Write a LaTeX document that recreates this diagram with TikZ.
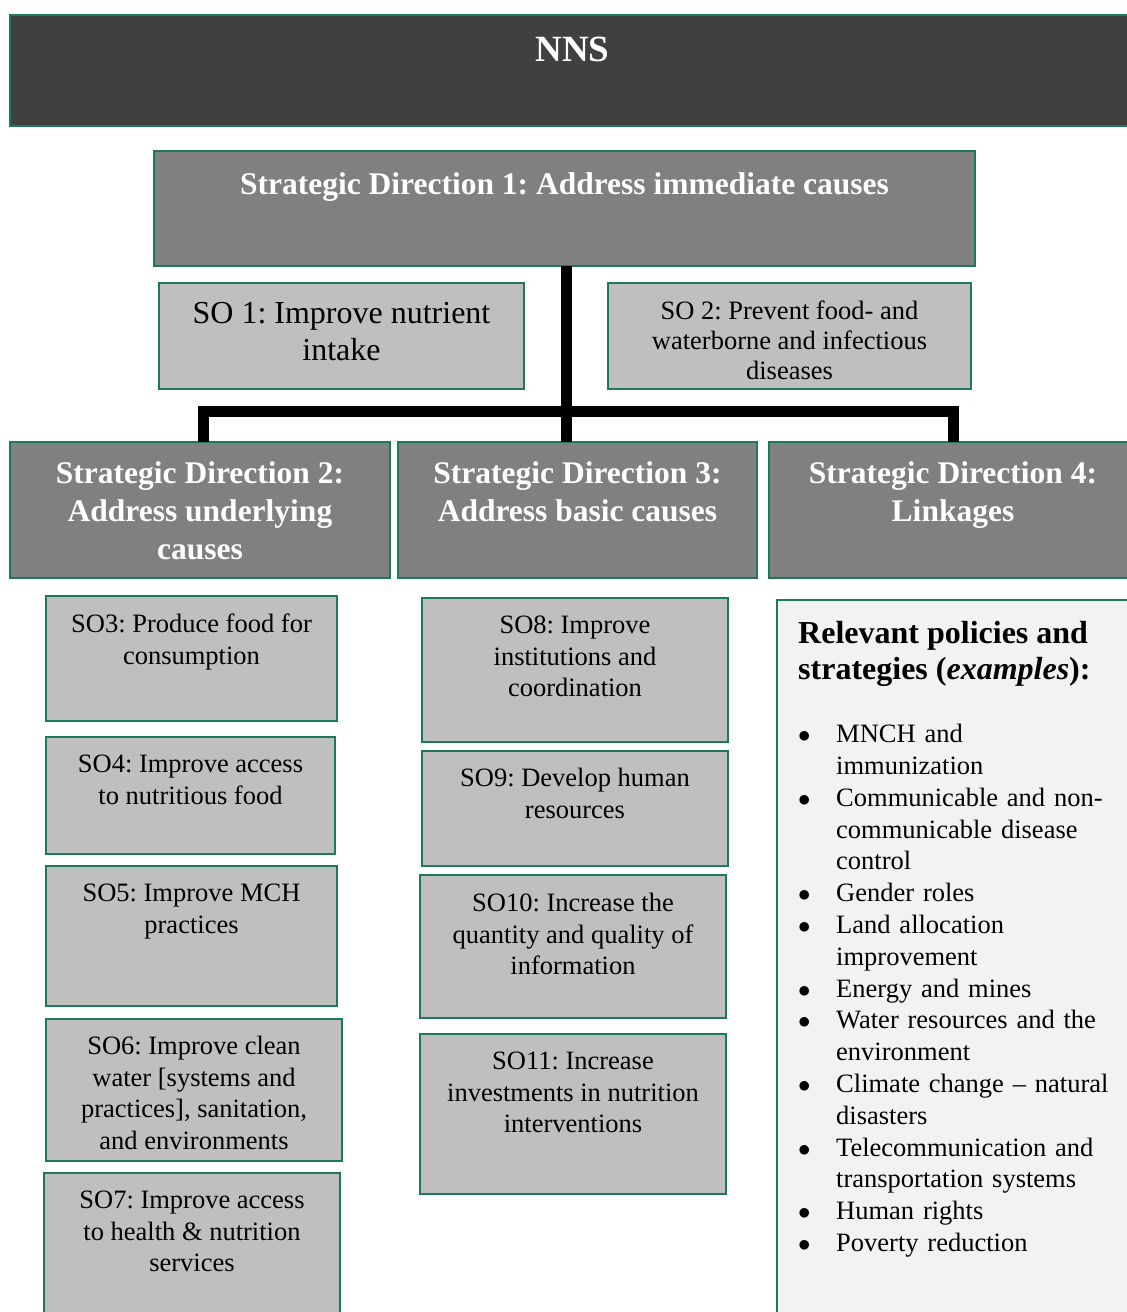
\documentclass[tikz,border=0pt]{standalone}
\usepackage{fontspec}
\setmainfont{Liberation Serif}
\usepackage{tikz}
\usetikzlibrary{positioning}
\frenchspacing

\definecolor{nnsgreen}{RGB}{30,120,92}
\definecolor{nnsdark}{RGB}{64,64,64}
\definecolor{nnsmid}{RGB}{128,128,128}
\definecolor{nnslight}{RGB}{191,191,191}
\definecolor{nnspale}{RGB}{242,242,242}

\newcommand{\pitem}[1]{\par\hangindent=38pt\hangafter=1\noindent\makebox[38pt][l]{$\bullet$}#1}

\tikzset{
  frame/.style={draw=nnsgreen, line width=2.5pt, inner sep=0pt, outer sep=0pt, anchor=north west},
  topbox/.style={frame, fill=nnsdark},
  dirbox/.style={frame, fill=nnsmid},
  sobox/.style={frame, fill=nnslight},
  panel/.style={frame, fill=nnspale},
  toptext/.style={font=\fontsize{37}{42}\selectfont\bfseries, text=white, inner sep=0pt},
  dirtext/.style={font=\fontsize{31.5}{38}\selectfont\bfseries, text=white, align=center, inner sep=0pt},
  sotext/.style={font=\fontsize{26.5}{31.5}\selectfont, align=center, inner sep=0pt},
  link/.style={line width=11pt, line join=miter},
}

\begin{document}
\begin{tikzpicture}[x=1pt,y=-1pt]
  \useasboundingbox (0,0) rectangle (1127,1312);

  % top level
  \node[topbox, minimum width=1125pt, minimum height=111pt] (nns) at (10,15) {};
  \node[toptext, below=22pt of nns.north] (nns-t) {NNS};

  % strategic direction 1
  \node[dirbox, minimum width=821pt, minimum height=115pt] (sd1) at (154,151) {};
  \node[dirtext, below=21pt of sd1.north] (sd1-t) {Strategic Direction 1: Address immediate causes};
  \node[sobox, minimum width=365pt, minimum height=106pt] (so1) at (159,283) {};
  \node[sotext, font=\fontsize{32}{37}\selectfont, below=19pt of so1.north] (so1-t) {SO 1: Improve nutrient\\intake};
  \node[sobox, minimum width=363pt, minimum height=106pt] (so2) at (608,283) {};
  \node[sotext, font=\fontsize{26.5}{30}\selectfont, below=18pt of so2.north] (so2-t) {SO 2: Prevent food- and\\waterborne and infectious\\diseases};

  % strategic directions 2-4
  \node[dirbox, minimum width=380pt, minimum height=136pt] (sd2) at (10,442) {};
  \node[dirtext, below=19pt of sd2.north] (sd2-t) {Strategic Direction 2:\\Address underlying\\causes};
  \node[dirbox, minimum width=359pt, minimum height=136pt] (sd3) at (398,442) {};
  \node[dirtext, below=19pt of sd3.north] (sd3-t) {Strategic Direction 3:\\Address basic causes};
  \node[dirbox, minimum width=366pt, minimum height=136pt] (sd4) at (769,442) {};
  \node[dirtext, below=19pt of sd4.north, xshift=1pt] (sd4-t) {Strategic Direction 4:\\Linkages};

  % SO under direction 2
  \node[sobox, minimum width=291pt, minimum height=125pt] (so3) at (46,596) {};
  \node[sotext, below=18pt of so3.north] (so3-t) {SO3: Produce food for\\consumption};
  \node[sobox, minimum width=289pt, minimum height=117pt] (so4) at (46,737) {};
  \node[sotext, below=18pt of so4.north] (so4-t) {SO4: Improve access\\to nutritious food};
  \node[sobox, minimum width=291pt, minimum height=140pt] (so5) at (46,866) {};
  \node[sotext, below=18pt of so5.north] (so5-t) {SO5: Improve MCH\\practices};
  \node[sobox, minimum width=296pt, minimum height=142pt] (so6) at (46,1019) {};
  \node[sotext, below=17pt of so6.north] (so6-t) {SO6: Improve clean\\water [systems and\\practices], sanitation,\\and environments};
  \node[sobox, minimum width=296pt, minimum height=147pt] (so7) at (44,1173) {};
  \node[sotext, below=18pt of so7.north] (so7-t) {SO7: Improve access\\to health \& nutrition\\services};

  % SO under direction 3
  \node[sobox, minimum width=306pt, minimum height=144pt] (so8) at (422,598) {};
  \node[sotext, below=18pt of so8.north] (so8-t) {SO8: Improve\\institutions and\\coordination};
  \node[sobox, minimum width=306pt, minimum height=115pt] (so9) at (422,751) {};
  \node[sotext, below=17pt of so9.north] (so9-t) {SO9: Develop human\\resources};
  \node[sobox, minimum width=306pt, minimum height=143pt] (so10) at (420,875) {};
  \node[sotext, below=18pt of so10.north] (so10-t) {SO10: Increase the\\quantity and quality of\\information};
  \node[sobox, minimum width=306pt, minimum height=160pt] (so11) at (420,1034) {};
  \node[sotext, below=18pt of so11.north] (so11-t) {SO11: Increase\\investments in nutrition\\interventions};

  % linkages panel
  \node[panel, minimum width=358pt, minimum height=720pt] (pol) at (777,600) {};
  \node[font=\fontsize{32}{36}\selectfont\bfseries, align=left, inner sep=0pt,
        below right=21pt and 21pt of pol.north west] (pol-h) {Relevant policies and\\strategies (\textit{examples}):};
  \node[font=\fontsize{26.5}{31.8}\selectfont, text width=320pt, inner sep=0pt,
        below right=24pt and 0pt of pol-h.south west] (pol-l) {%
    \pitem{MNCH and\newline immunization}
    \pitem{Communicable and non-\newline communicable disease\newline control}
    \pitem{Gender roles}
    \pitem{Land allocation\newline improvement}
    \pitem{Energy and mines}
    \pitem{Water resources and the\newline environment}
    \pitem{Climate change -- natural\newline disasters}
    \pitem{Telecommunication and\newline transportation systems}
    \pitem{Human rights}
    \pitem{Poverty reduction}\par};

  % connectors
  \coordinate (hubL) at (203,411);
  \coordinate (hubM) at (566,411);
  \coordinate (hubR) at (953,411);
  \draw[link] (sd1.south -| hubM) -- (sd3.north -| hubM);
  \draw[link] (sd2.north -| hubL) -- (hubL) -- (hubR) -- (sd4.north -| hubR);
\end{tikzpicture}
\end{document}
